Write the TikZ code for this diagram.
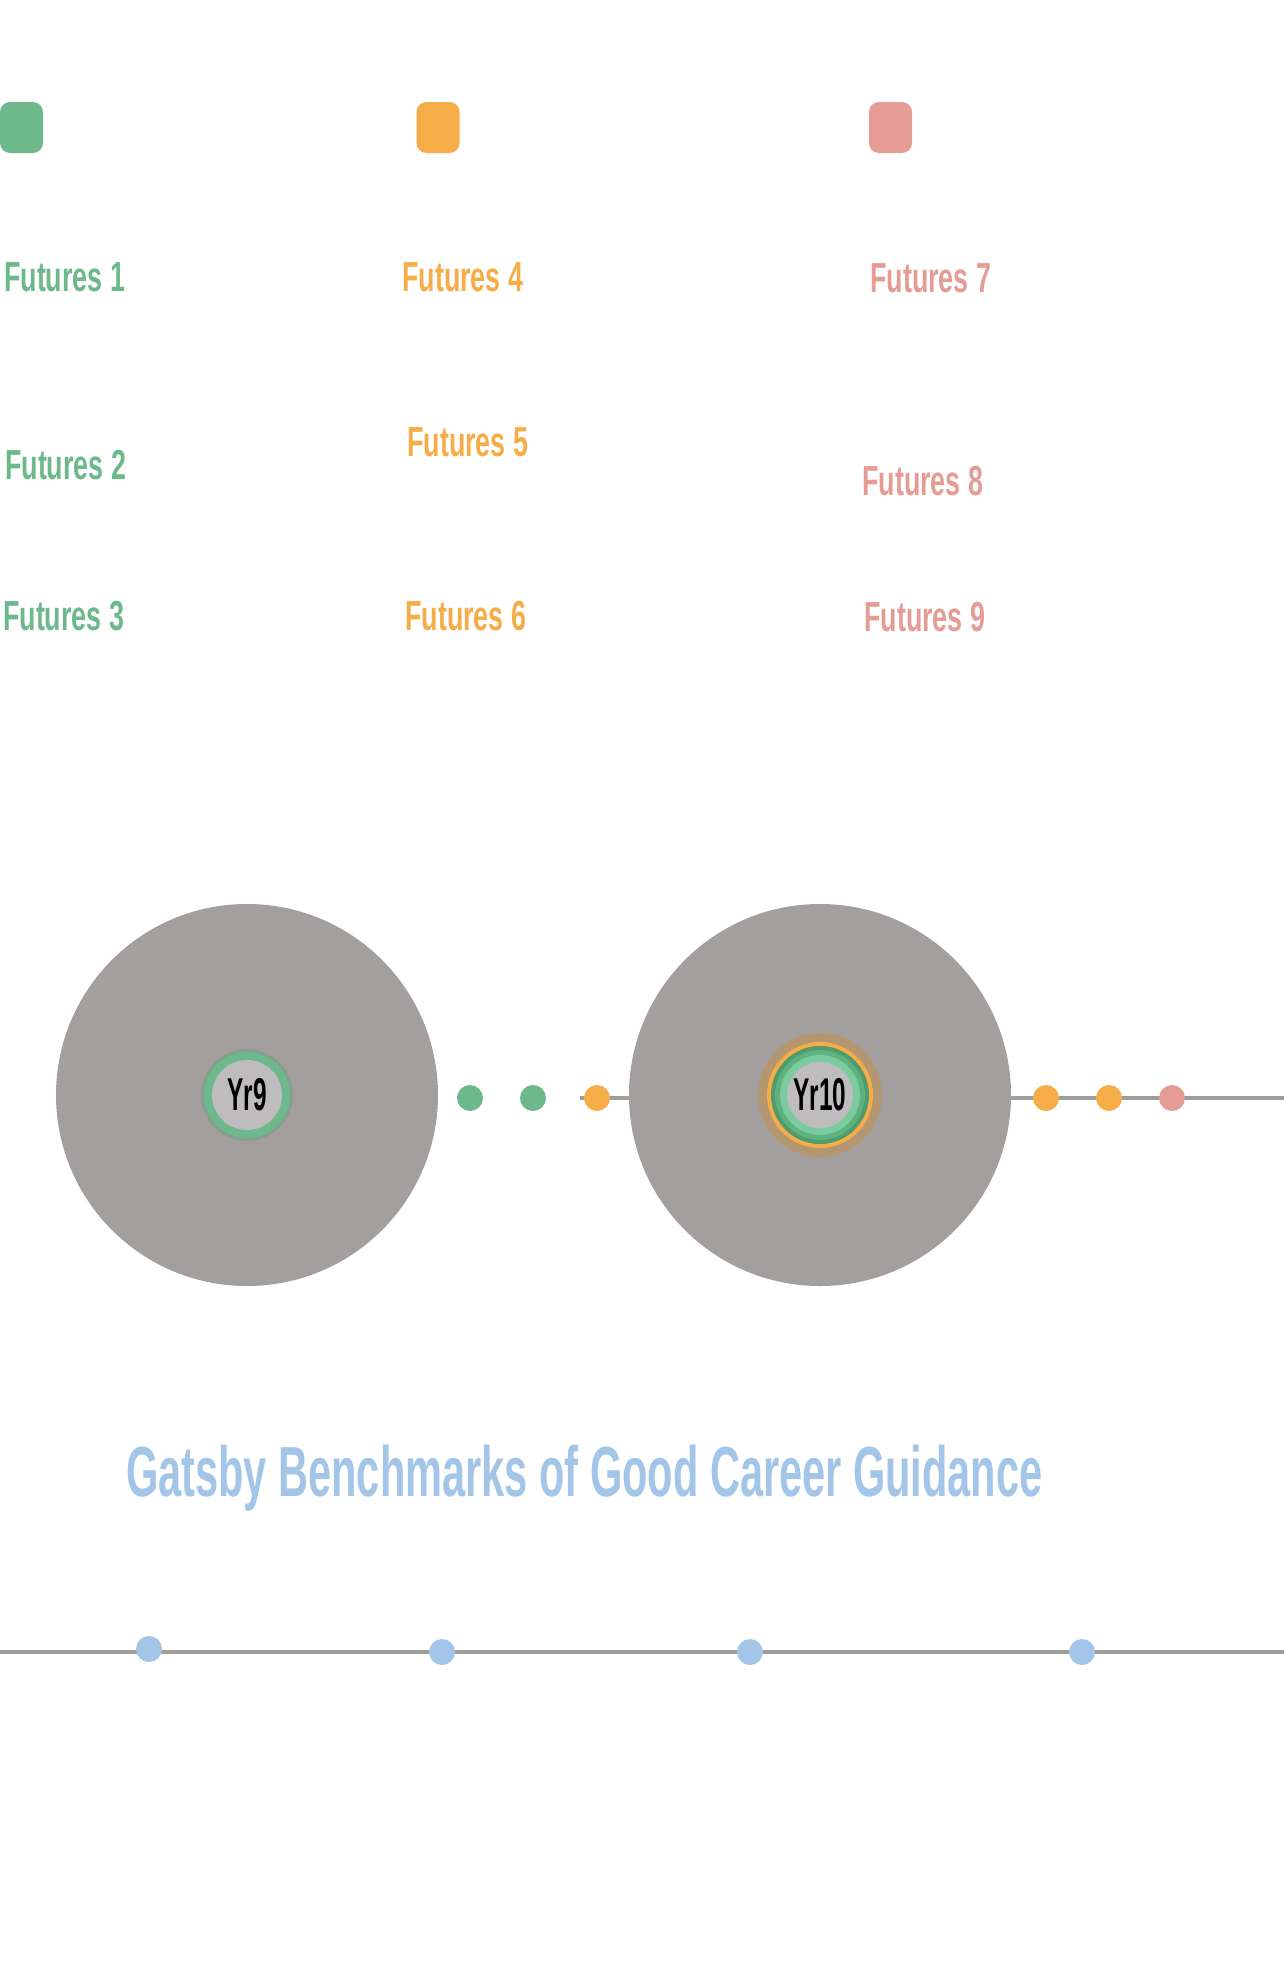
\documentclass[tikz,border=0pt]{standalone}
\usepackage{fontspec}
\setmainfont{Liberation Sans}
\newfontfamily\condP[FakeStretch=0.64]{Liberation Sans Bold}
\newfontfamily\condT[FakeStretch=0.585]{Liberation Sans Bold}
\newfontfamily\condY[FakeStretch=0.53]{Liberation Sans Bold}
\definecolor{fgreen}{RGB}{109,185,140}
\definecolor{forange}{RGB}{246,173,72}
\definecolor{fpink}{RGB}{229,156,148}
\definecolor{biggray}{RGB}{163,159,158}
\definecolor{linegray}{RGB}{160,157,157}
\definecolor{fblue}{RGB}{162,197,232}
\definecolor{innergray}{RGB}{190,188,188}
\definecolor{halogreen}{RGB}{134,160,142}
\definecolor{halobrown}{RGB}{180,150,112}
\definecolor{darkgreen}{RGB}{78,155,110}
\definecolor{midgreen}{RGB}{93,178,126}
\definecolor{lightgreen}{RGB}{123,203,158}
\begin{document}
\begin{tikzpicture}[x=1pt,y=-1pt,
  swatch/.style={rounded corners=10pt,inner sep=0pt,minimum width=43pt,minimum height=51pt},
  lbl/.style={anchor=base west,inner sep=0pt,font=\condP\fontsize{42}{42}\selectfont},
  disc/.style={circle,inner sep=0pt,minimum size=#1},
  dot/.style={circle,inner sep=0pt,minimum size=26pt},
  conn/.style={draw=linegray,line width=4pt}]
\useasboundingbox[fill=white] (0,0) rectangle (1284,1973);
% colour swatches
\node[swatch,fill=fgreen] (sg) at (21.5,127.5) {};
\node[swatch,fill=forange] (so) at (438,127.5) {};
\node[swatch,fill=fpink] (sp) at (890.5,127.5) {};
% labels
\node[lbl,text=fgreen] (f1) at (4,291) {Futures 1};
\node[lbl,text=fgreen] (f2) at (5,479) {Futures 2};
\node[lbl,text=fgreen] (f3) at (3,630) {Futures 3};
\node[lbl,text=forange] (f4) at (402,291) {Futures 4};
\node[lbl,text=forange] (f5) at (407,456) {Futures 5};
\node[lbl,text=forange] (f6) at (405,630) {Futures 6};
\node[lbl,text=fpink] (f7) at (870,292) {Futures 7};
\node[lbl,text=fpink] (f8) at (862,495) {Futures 8};
\node[lbl,text=fpink] (f9) at (864,631) {Futures 9};
% middle line
\coordinate (m1) at (580,1098);
\coordinate (m2) at (1284,1098);
\draw[conn] (m1) -- (m2);
% big circles
\node[disc=382pt,fill=biggray] (c9) at (247,1095) {};
\node[disc=382pt,fill=biggray] (c10) at (820,1095) {};
% Yr9 rings
\node[disc=92pt,fill=halogreen] (r9a) at (c9) {};
\node[disc=86pt,fill=fgreen] (r9b) at (c9) {};
\node[disc=70pt,fill=innergray] (r9c) at (c9) {};
\node[inner sep=0pt,font=\condY\fontsize{46}{46}\selectfont] (y9) at (c9) {Yr9};
% Yr10 rings
\node[disc=124pt,fill=halobrown] (r10a) at (c10) {};
\node[disc=106pt,fill=forange] (r10b) at (c10) {};
\node[disc=98pt,fill=darkgreen] (r10c) at (c10) {};
\node[disc=90pt,fill=midgreen] (r10d) at (c10) {};
\node[disc=80pt,fill=lightgreen] (r10e) at (c10) {};
\node[disc=66pt,fill=innergray] (r10f) at (c10) {};
\node[inner sep=0pt,font=\condY\fontsize{46}{46}\selectfont] (y10) at (c10) {Yr10};
% middle dots
\node[dot,fill=fgreen] (d1) at (470,1098) {};
\node[dot,fill=fgreen] (d2) at (533,1098) {};
\node[dot,fill=forange] (d3) at (597,1098) {};
\node[dot,fill=forange] (d4) at (1046,1098) {};
\node[dot,fill=forange] (d5) at (1109,1098) {};
\node[dot,fill=fpink] (d6) at (1172,1098) {};
% title
\node[anchor=base west,inner sep=0pt,text=fblue,font=\condT\fontsize{71}{71}\selectfont] (title) at (126,1496) {Gatsby Benchmarks of Good Career Guidance};
% bottom line
\coordinate (b1) at (0,1652);
\coordinate (b2) at (1284,1652);
\draw[conn] (b1) -- (b2);
\node[dot,fill=fblue] (g1) at (149,1649) {};
\node[dot,fill=fblue] (g2) at (442,1652) {};
\node[dot,fill=fblue] (g3) at (750,1652) {};
\node[dot,fill=fblue] (g4) at (1082,1652) {};
\end{tikzpicture}
\end{document}
